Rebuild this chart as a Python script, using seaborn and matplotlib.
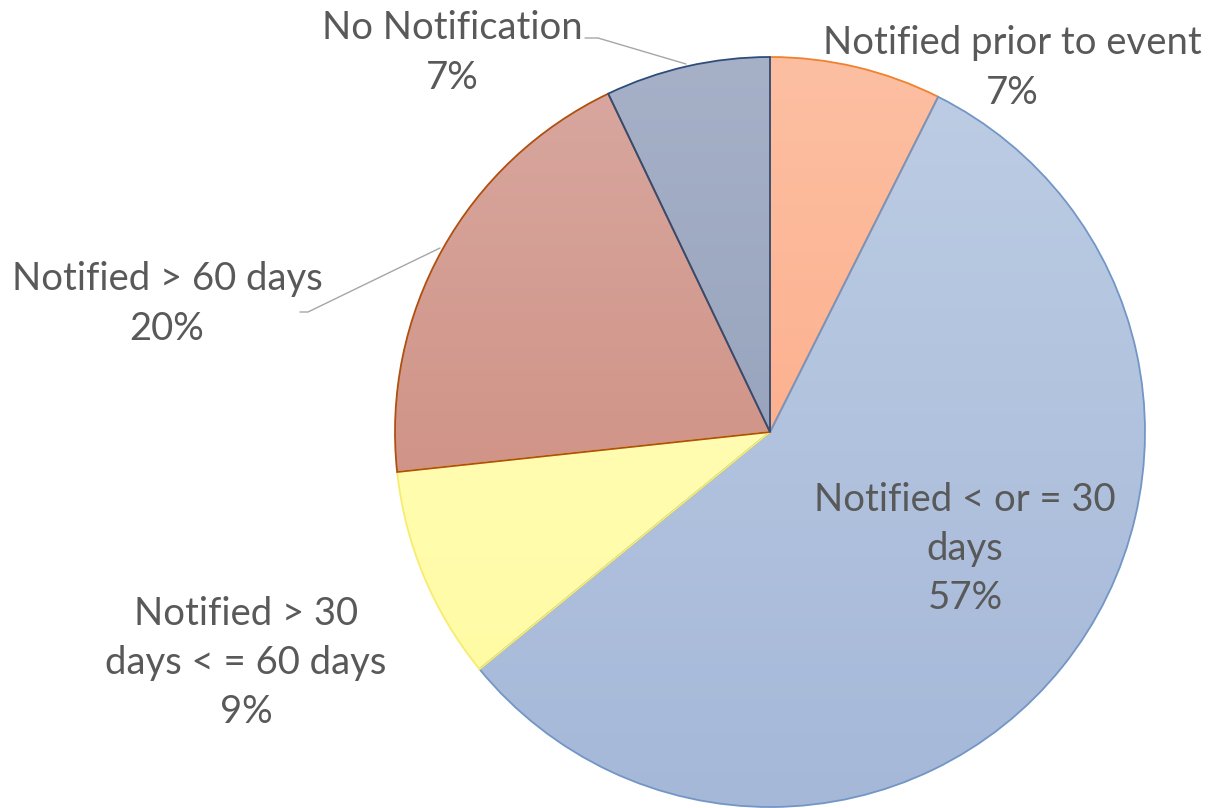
import numpy as np
import seaborn as sns
import matplotlib.pyplot as plt
from matplotlib.colors import to_rgb

# pie data, clockwise from 12 o'clock
labels = ["Notified prior to event", "Notified < or = 30\ndays", "Notified > 30\ndays < = 60 days",
          "Notified > 60 days", "No Notification"]
shares = [7.4, 56.7, 9.2, 19.6, 7.1]
pct_text = ["7%", "57%", "9%", "20%", "7%"]

# slice styling
top_colors = ["#FDBFA2", "#BDCDE4", "#FFFEC8", "#D8A8A0", "#A6B1C8"]
bottom_colors = ["#FCA47E", "#A5B8D8", "#FFFB9C", "#CB8474", "#8C99B4"]
edge_colors = ["#F0822E", "#7296C6", "#F8EC70", "#B0500F", "#2F4D7A"]

sns.set_theme(style="white")
plt.rcParams['font.family'] = ['Lato', 'DejaVu Sans']

fig = plt.figure(figsize=(12.1, 8.08), dpi=100)
ax = fig.add_axes([0, 0, 1, 1])

# pixel frame: centre at (770, 432), radius 375 px
scale = 375.0
ax.axis('off')

wedges, _ = ax.pie(shares, startangle=90, counterclock=False, radius=1,
                   colors=bottom_colors,
                   wedgeprops=dict(linewidth=1.3))

# vertical gradient fill like the office chart
for w, c0, c1, ec in zip(wedges, top_colors, bottom_colors, edge_colors):
    t = np.linspace(0, 1, 256)[:, None, None]
    grad = (1 - t) * np.array(to_rgb(c0)) + t * np.array(to_rgb(c1))
    im = ax.imshow(grad, extent=(-1, 1, -1, 1), origin='upper', aspect='auto', zorder=2)
    im.set_clip_path(w)
    w.set_facecolor('none')
    w.set_edgecolor(ec)
    w.set_zorder(3)

ax.set_xlim(-770 / scale, (1210 - 770) / scale)
ax.set_ylim(-(808 - 432) / scale, 432 / scale)
ax.set_aspect('auto')


def px(x, y):
    return (x - 770) / scale, (432 - y) / scale


label_pos = [px(1012, 68), px(965, 549), px(246, 663), px(167, 304), px(452, 53)]
txt_color = "#595959"
for lab, pct, (x, y) in zip(labels, pct_text, label_pos):
    ax.text(x, y, lab + "\n" + pct, ha='center', va='center', fontsize=27.5,
            color=txt_color, linespacing=1.45, zorder=5)

# leader lines
lx, ly = zip(px(585, 38), px(598, 38), px(686, 64))
ax.plot(lx, ly, color="#A6A6A6", lw=1.0, zorder=4)
lx, ly = zip(px(300, 312), px(308, 312), px(440, 248))
ax.plot(lx, ly, color="#A6A6A6", lw=1.0, zorder=4)

fig.savefig("out.png", dpi=100)
